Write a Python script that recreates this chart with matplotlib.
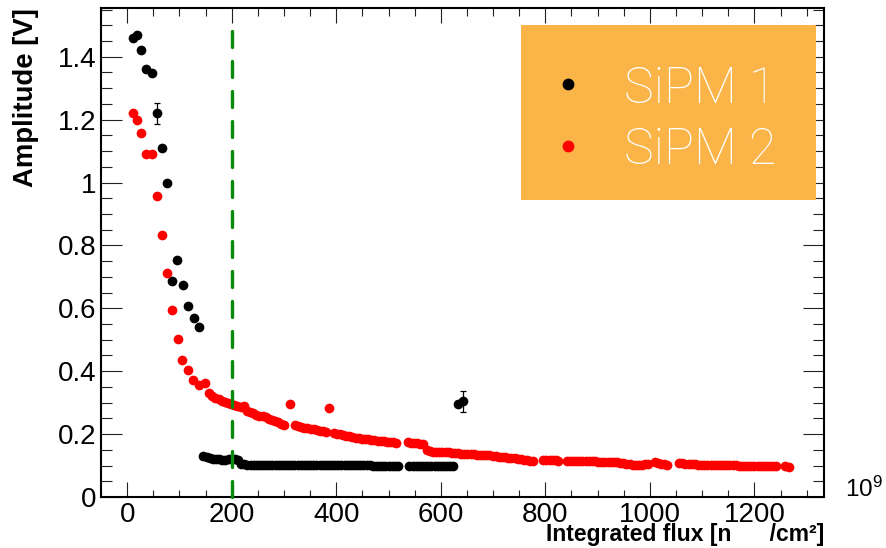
import matplotlib
matplotlib.use("Agg")
import matplotlib.pyplot as plt
from matplotlib.ticker import MultipleLocator, FuncFormatter
from matplotlib.patches import Rectangle

plt.rcParams['font.family'] = ['Liberation Sans', 'DejaVu Sans']
plt.rcParams['mathtext.fontset'] = 'custom'
plt.rcParams['mathtext.rm'] = 'Liberation Sans'
plt.rcParams['mathtext.it'] = 'Liberation Sans:italic'
plt.rcParams['mathtext.bf'] = 'Liberation Sans:bold'

# ---------------- data (integrated flux in 1e9 n/cm2, amplitude in V) ----------------
sipm1_x = [11, 19, 27, 37, 47, 56.5, 66, 76, 86.5, 96, 106, 116, 127, 137,
           146, 152, 158, 164, 170, 176, 182, 188, 194, 200, 206, 212,
           218, 224, 230, 236, 242, 248, 254, 260, 266, 272, 278, 284, 290, 296,
           302, 308, 314, 320, 326, 332, 338, 344, 350, 356, 362, 368, 374, 380,
           386, 392, 398, 404, 410, 416, 422, 428, 434, 440, 446, 452, 458, 464,
           470, 476, 482, 488, 494, 500, 506, 512, 518,
           540, 546, 552, 558, 564, 570, 576, 582, 588, 594, 600, 606, 612, 618, 624,
           632, 643]
sipm1_y = [1.46, 1.47, 1.42, 1.361, 1.349, 1.22, 1.11, 1.0, 0.688, 0.755, 0.674, 0.608, 0.569, 0.54,
           0.129, 0.126, 0.123, 0.121, 0.120, 0.120, 0.119, 0.119, 0.120, 0.121, 0.121, 0.117,
           0.106, 0.104, 0.103, 0.103, 0.102, 0.102, 0.102, 0.102, 0.102, 0.102, 0.102, 0.102, 0.102, 0.102,
           0.102, 0.102, 0.103, 0.103, 0.102, 0.102, 0.102, 0.102, 0.102, 0.102, 0.102, 0.102, 0.102, 0.102,
           0.102, 0.102, 0.102, 0.102, 0.102, 0.101, 0.101, 0.101, 0.101, 0.101, 0.101, 0.101, 0.101, 0.101,
           0.100, 0.100, 0.100, 0.100, 0.100, 0.100, 0.100, 0.100, 0.099,
           0.099, 0.099, 0.099, 0.099, 0.099, 0.099, 0.099, 0.099, 0.099, 0.099, 0.099, 0.099, 0.099, 0.099, 0.099,
           0.297, 0.304]
# points of SiPM 1 whose error bars are visible
sipm1_err_x = [56.5, 643]
sipm1_err_y = [1.22, 0.304]
sipm1_err = [0.034, 0.033]

sipm2_x = [11, 18, 27, 37, 47, 57, 67, 76, 86.5, 96.6, 105.6, 116.4, 126.6, 137.5, 148.3,
           157, 163, 169, 175, 181, 187, 193, 199, 205, 211, 217, 223, 229, 235, 241, 247,
           253, 259, 265, 271, 277, 283, 289, 295, 301,
           311,
           321, 327, 333, 339, 345, 351, 357, 363, 369, 375, 380,
           386,
           395, 401, 407, 413, 419, 425, 431, 437, 443, 449, 455, 461, 467, 473, 479, 485,
           491, 497, 503, 509, 515,
           537, 543, 549, 555, 561, 566, 573, 579, 585, 591, 597, 603, 609, 615, 621, 627,
           633, 639, 645, 651, 657, 663, 669, 675, 681, 687, 693, 699, 705, 711, 717, 723,
           729, 735, 741, 747, 753, 759, 765, 771, 777,
           796, 802, 808, 814, 820, 825,
           841, 847, 853, 859, 865, 871, 877, 883, 889, 895, 901, 907, 913, 919, 925, 931,
           937, 943, 949, 955, 961, 967, 973, 979, 985, 991, 997,
           1009, 1015, 1021, 1027, 1033,
           1056, 1062, 1068, 1074, 1080, 1086, 1092, 1098, 1104, 1110, 1116, 1122, 1128,
           1134, 1140, 1146, 1152, 1158, 1164, 1170, 1176, 1182, 1188, 1194, 1200, 1206,
           1212, 1218, 1224, 1230, 1236, 1242,
           1258, 1266]
sipm2_y = [1.22, 1.199, 1.159, 1.09, 1.09, 0.956, 0.833, 0.713, 0.596, 0.502, 0.437, 0.405, 0.373, 0.355, 0.364,
           0.331, 0.322, 0.316, 0.311, 0.306, 0.302, 0.298, 0.295, 0.292, 0.289, 0.287, 0.288, 0.275, 0.270, 0.266, 0.262,
           0.259, 0.256, 0.253, 0.249, 0.245, 0.241, 0.237, 0.233, 0.230,
           0.297,
           0.229, 0.226, 0.223, 0.221, 0.219, 0.217, 0.215, 0.213, 0.211, 0.209, 0.208,
           0.283,
           0.203, 0.201, 0.199, 0.197, 0.195, 0.193, 0.191, 0.189, 0.187, 0.186, 0.184, 0.183, 0.182, 0.181, 0.179, 0.178,
           0.177, 0.176, 0.175, 0.174, 0.173,
           0.174, 0.173, 0.171, 0.171, 0.170, 0.167, 0.150, 0.146, 0.144, 0.143, 0.142, 0.142, 0.142, 0.142, 0.141, 0.140,
           0.139, 0.138, 0.137, 0.137, 0.137, 0.136, 0.135, 0.134, 0.134, 0.133, 0.132, 0.131, 0.130, 0.128, 0.127, 0.126,
           0.125, 0.124, 0.123, 0.121, 0.120, 0.119, 0.118, 0.116, 0.114,
           0.119, 0.119, 0.119, 0.119, 0.118, 0.116,
           0.116, 0.116, 0.116, 0.115, 0.115, 0.114, 0.114, 0.114, 0.113, 0.113, 0.112, 0.112, 0.112, 0.111, 0.111, 0.110,
           0.110, 0.108, 0.107, 0.106, 0.104, 0.101, 0.101, 0.102, 0.103, 0.104, 0.104,
           0.112, 0.109, 0.106, 0.104, 0.103,
           0.107, 0.107, 0.106, 0.106, 0.105, 0.104, 0.103, 0.102, 0.102, 0.101, 0.101, 0.101, 0.101,
           0.101, 0.101, 0.101, 0.101, 0.101, 0.101, 0.100, 0.100, 0.100, 0.100, 0.100, 0.100, 0.100,
           0.100, 0.100, 0.100, 0.100, 0.100, 0.100,
           0.098, 0.096]

cut_flux = 200          # vertical dashed line
cut_top = 1.51
legend_labels = ["SiPM 1", "SiPM 2"]
x_ticks = [0, 200, 400, 600, 800, 1000, 1200]
y_ticks = [0, 0.2, 0.4, 0.6, 0.8, 1.0, 1.2, 1.4]

# ---------------- figure ----------------
W, H = 886, 548
fig = plt.figure(figsize=(W / 100, H / 100), dpi=100)
ax = fig.add_axes([101 / W, 1 - 497 / H, 723 / W, 489 / H])
ax.set_xlim(-50, 1333)
ax.set_ylim(0, 1.555)

ms = 7.0
ax.plot(sipm1_x, sipm1_y, 'o', color='black', ms=ms, mec='none', zorder=3)
ax.errorbar(sipm1_err_x, sipm1_err_y, yerr=sipm1_err, fmt='none', ecolor='black',
            elinewidth=0.9, capsize=2.2, capthick=0.9, zorder=3)
ax.plot(sipm2_x, sipm2_y, 'o', color='#ff0000', ms=ms, mec='none', zorder=3)

ax.plot([cut_flux, cut_flux], [0, cut_top], color='#0a8a0a', lw=2.4,
        dashes=(4.8, 4.2), solid_capstyle='butt', dash_capstyle='round', zorder=4, clip_on=False)

# axes style (ROOT-like)
for s in ax.spines.values():
    s.set_linewidth(1.5)
ax.set_xticks(x_ticks)
ax.set_yticks(y_ticks)
ax.xaxis.set_minor_locator(MultipleLocator(50))
ax.yaxis.set_minor_locator(MultipleLocator(0.05))
ax.yaxis.set_major_formatter(FuncFormatter(lambda v, p: '%g' % round(v, 3)))
ax.tick_params(which='both', direction='in', top=True, right=True, width=0.8, color='#222222')
ax.tick_params(axis='x', which='major', length=10.8, labelsize=20, pad=3.5)
ax.tick_params(axis='x', which='minor', length=5.4)
ax.tick_params(axis='y', which='major', length=15, labelsize=20, pad=3)
ax.tick_params(axis='y', which='minor', length=8)

# axis titles
fig.text(824 / W, 1 - 541 / H, "Integrated flux [n      /cm²]", ha='right', va='baseline',
         fontsize=16.5, fontweight='bold')
fig.text(26 / W, 1 - 8 / H, "Amplitude [V]", rotation=90, ha='center', va='top',
         fontsize=19.8, fontweight='bold')
fig.text(845 / W, 1 - 497 / H, r"$10^{9}$", ha='left', va='baseline', fontsize=17.5)

# legend box
ax.add_patch(Rectangle((520.7 / W, 1 - 200 / H), (816 - 520.7) / W, (200 - 25) / H,
                       transform=fig.transFigure, facecolor='#fab448', edgecolor='none',
                       zorder=5, clip_on=False))
leg_colors = ['black', '#ff0000']
leg_y = [84, 145.7]
for lab, c, yy in zip(legend_labels, leg_colors, leg_y):
    fig.lines.append(plt.Line2D([568.3 / W], [1 - yy / H], marker='o', ms=8.5, color=c,
                                mec='none', transform=fig.transFigure, zorder=6))
    fig.text(624 / W, 1 - yy / H, lab, ha='left', va='center_baseline', color='white',
             fontsize=36, family='Roboto', fontweight='light', zorder=7)

fig.savefig("out.png", dpi=100)
